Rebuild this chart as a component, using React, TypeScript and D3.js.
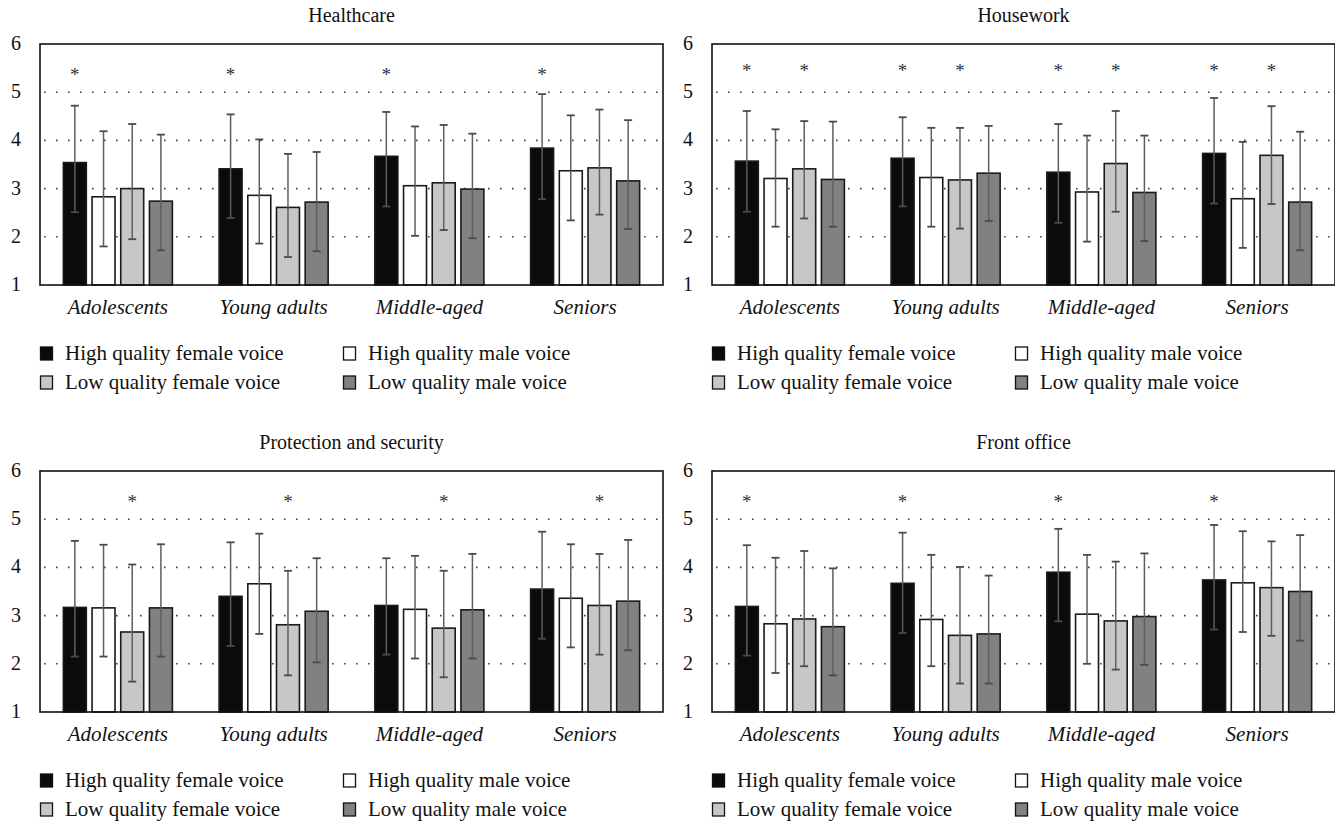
import React from "react";
import * as d3 from "d3";

const groups = ["Adolescents", "Young adults", "Middle-aged", "Seniors"];
const seriesNames = [
  "High quality female voice",
  "High quality male voice",
  "Low quality female voice",
  "Low quality male voice",
];
const seriesColors = ["#0b0b09", "#ffffff", "#c6c8c6", "#818181"];

const panelTitles = ["Healthcare", "Housework", "Protection and security", "Front office"];

// bar value per group (rows) x series (cols), plus the lower / upper end of each error bar
const healthcareMean = [
  [3.54, 2.83, 3.0, 2.74],
  [3.41, 2.86, 2.61, 2.72],
  [3.67, 3.06, 3.12, 2.99],
  [3.84, 3.37, 3.43, 3.16],
];
const healthcareLow = [
  [2.51, 1.8, 1.95, 1.72],
  [2.39, 1.86, 1.58, 1.7],
  [2.63, 2.02, 2.14, 1.97],
  [2.78, 2.34, 2.46, 2.16],
];
const healthcareHigh = [
  [4.72, 4.19, 4.34, 4.12],
  [4.54, 4.02, 3.72, 3.76],
  [4.59, 4.29, 4.32, 4.14],
  [4.96, 4.52, 4.64, 4.42],
];

const houseworkMean = [
  [3.57, 3.21, 3.41, 3.19],
  [3.63, 3.23, 3.18, 3.32],
  [3.34, 2.93, 3.52, 2.92],
  [3.73, 2.79, 3.69, 2.72],
];
const houseworkLow = [
  [2.52, 2.21, 2.38, 2.21],
  [2.63, 2.21, 2.17, 2.33],
  [2.29, 1.9, 2.52, 1.91],
  [2.69, 1.77, 2.68, 1.72],
];
const houseworkHigh = [
  [4.61, 4.23, 4.4, 4.39],
  [4.48, 4.26, 4.26, 4.3],
  [4.34, 4.1, 4.61, 4.1],
  [4.88, 3.97, 4.71, 4.18],
];

const protectionMean = [
  [3.17, 3.16, 2.66, 3.16],
  [3.4, 3.66, 2.81, 3.09],
  [3.21, 3.13, 2.74, 3.12],
  [3.55, 3.36, 3.21, 3.3],
];
const protectionLow = [
  [2.15, 2.15, 1.63, 2.15],
  [2.37, 2.62, 1.76, 2.03],
  [2.19, 2.11, 1.72, 2.11],
  [2.52, 2.34, 2.19, 2.28],
];
const protectionHigh = [
  [4.55, 4.47, 4.06, 4.48],
  [4.52, 4.7, 3.93, 4.19],
  [4.19, 4.24, 3.93, 4.28],
  [4.74, 4.48, 4.28, 4.57],
];

const frontOfficeMean = [
  [3.19, 2.83, 2.93, 2.77],
  [3.67, 2.92, 2.59, 2.62],
  [3.9, 3.03, 2.89, 2.98],
  [3.74, 3.68, 3.58, 3.5],
];
const frontOfficeLow = [
  [2.17, 1.81, 1.95, 1.76],
  [2.64, 1.95, 1.59, 1.59],
  [2.88, 2.0, 1.88, 1.98],
  [2.71, 2.66, 2.58, 2.48],
];
const frontOfficeHigh = [
  [4.46, 4.2, 4.34, 3.98],
  [4.72, 4.26, 4.01, 3.83],
  [4.8, 4.26, 4.12, 4.29],
  [4.88, 4.75, 4.54, 4.67],
];

// series index that carries a "*" in every group
const healthcareStars = [0];
const houseworkStars = [0, 2];
const protectionStars = [2];
const frontOfficeStars = [0];

const yTicks = [1, 2, 3, 4, 5, 6];

const panels = [
  { title: panelTitles[0], mean: healthcareMean, low: healthcareLow, high: healthcareHigh, stars: healthcareStars, starAt: 5.45 },
  { title: panelTitles[1], mean: houseworkMean, low: houseworkLow, high: houseworkHigh, stars: houseworkStars, starAt: 5.53 },
  { title: panelTitles[2], mean: protectionMean, low: protectionLow, high: protectionHigh, stars: protectionStars, starAt: 5.45 },
  { title: panelTitles[3], mean: frontOfficeMean, low: frontOfficeLow, high: frontOfficeHigh, stars: frontOfficeStars, starAt: 5.45 },
];

const W = 623;
const H = 241;
const FONT = "'Liberation Serif', 'Times New Roman', serif";

function Panel({ p, left, top }) {
  const x0 = d3.scaleBand().domain(groups).range([0, W]).paddingInner(0.3).paddingOuter(0.15);
  const x1 = d3.scaleBand().domain(seriesNames).range([0, x0.bandwidth()]).paddingInner(0.2);
  const y = d3.scaleLinear().domain([1, 6]).range([H, 0]);
  const cap = 4;

  return (
    <g transform={`translate(${left},${top})`} fontFamily={FONT}>
      <text x={W / 2} y={-22} textAnchor="middle" fontSize={20} fill="#111">
        {p.title}
      </text>
      {yTicks.slice(1, 5).map((t) => (
        <line key={t} x1={4} x2={W} y1={y(t)} y2={y(t)} stroke="#444" strokeWidth={1.6}
          strokeDasharray="1.6 10.4" />
      ))}
      {yTicks.map((t) => (
        <text key={t} x={-19} y={y(t) + 6} textAnchor="end" fontSize={20} fill="#111">
          {t}
        </text>
      ))}
      {groups.map((g, gi) => (
        <g key={g} transform={`translate(${x0(g)},0)`}>
          {seriesNames.map((s, si) => {
            const m = p.mean[gi][si];
            const lo = p.low[gi][si];
            const hi = p.high[gi][si];
            const cx = x1(s) + x1.bandwidth() / 2;
            return (
              <g key={s}>
                <rect x={x1(s)} y={y(m)} width={x1.bandwidth()} height={y(1) - y(m)}
                  fill={seriesColors[si]} stroke="#1a1a1a" strokeWidth={1.6} />
                <line x1={cx} x2={cx} y1={y(hi)} y2={y(lo)} stroke="#5e5e5e" strokeWidth={1.5} />
                <line x1={cx - cap} x2={cx + cap} y1={y(hi)} y2={y(hi)} stroke="#4a4a4a" strokeWidth={1.8} />
                <line x1={cx - cap} x2={cx + cap} y1={y(lo)} y2={y(lo)} stroke="#4a4a4a" strokeWidth={1.8} />
              </g>
            );
          })}
          {p.stars.map((si) => (
            <text key={si} x={x1(seriesNames[si]) + x1.bandwidth() / 2} y={y(p.starAt) + 10}
              textAnchor="middle" fontSize={19} fill="#333">
              *
            </text>
          ))}
          <text x={x0.bandwidth() / 2} y={H + 29} textAnchor="middle" fontSize={21} fontStyle="italic" fill="#111">
            {g}
          </text>
        </g>
      ))}
      <rect x={0} y={0} width={W} height={H} fill="none" stroke="#111" strokeWidth={1.6} />
      {seriesNames.map((s, si) => {
        const lx = (si % 2) * 303;
        const ly = H + 62 + Math.floor(si / 2) * 29;
        return (
          <g key={s}>
            <rect x={lx + 0.5} y={ly} width={12} height={13} fill={seriesColors[si]} stroke="#111" strokeWidth={1.3} />
            <text x={lx + 25} y={ly + 13} fontSize={21} fill="#111">
              {s}
            </text>
          </g>
        );
      })}
    </g>
  );
}

export default function App() {
  return (
    <svg width={1335} height={822} style={{ position: "absolute", left: 0, top: 0, background: "#fff" }}>
      {panels.map((p, i) => (
        <Panel key={p.title} p={p} left={40 + (i % 2) * 672} top={44 + Math.floor(i / 2) * 427} />
      ))}
    </svg>
  );
}
